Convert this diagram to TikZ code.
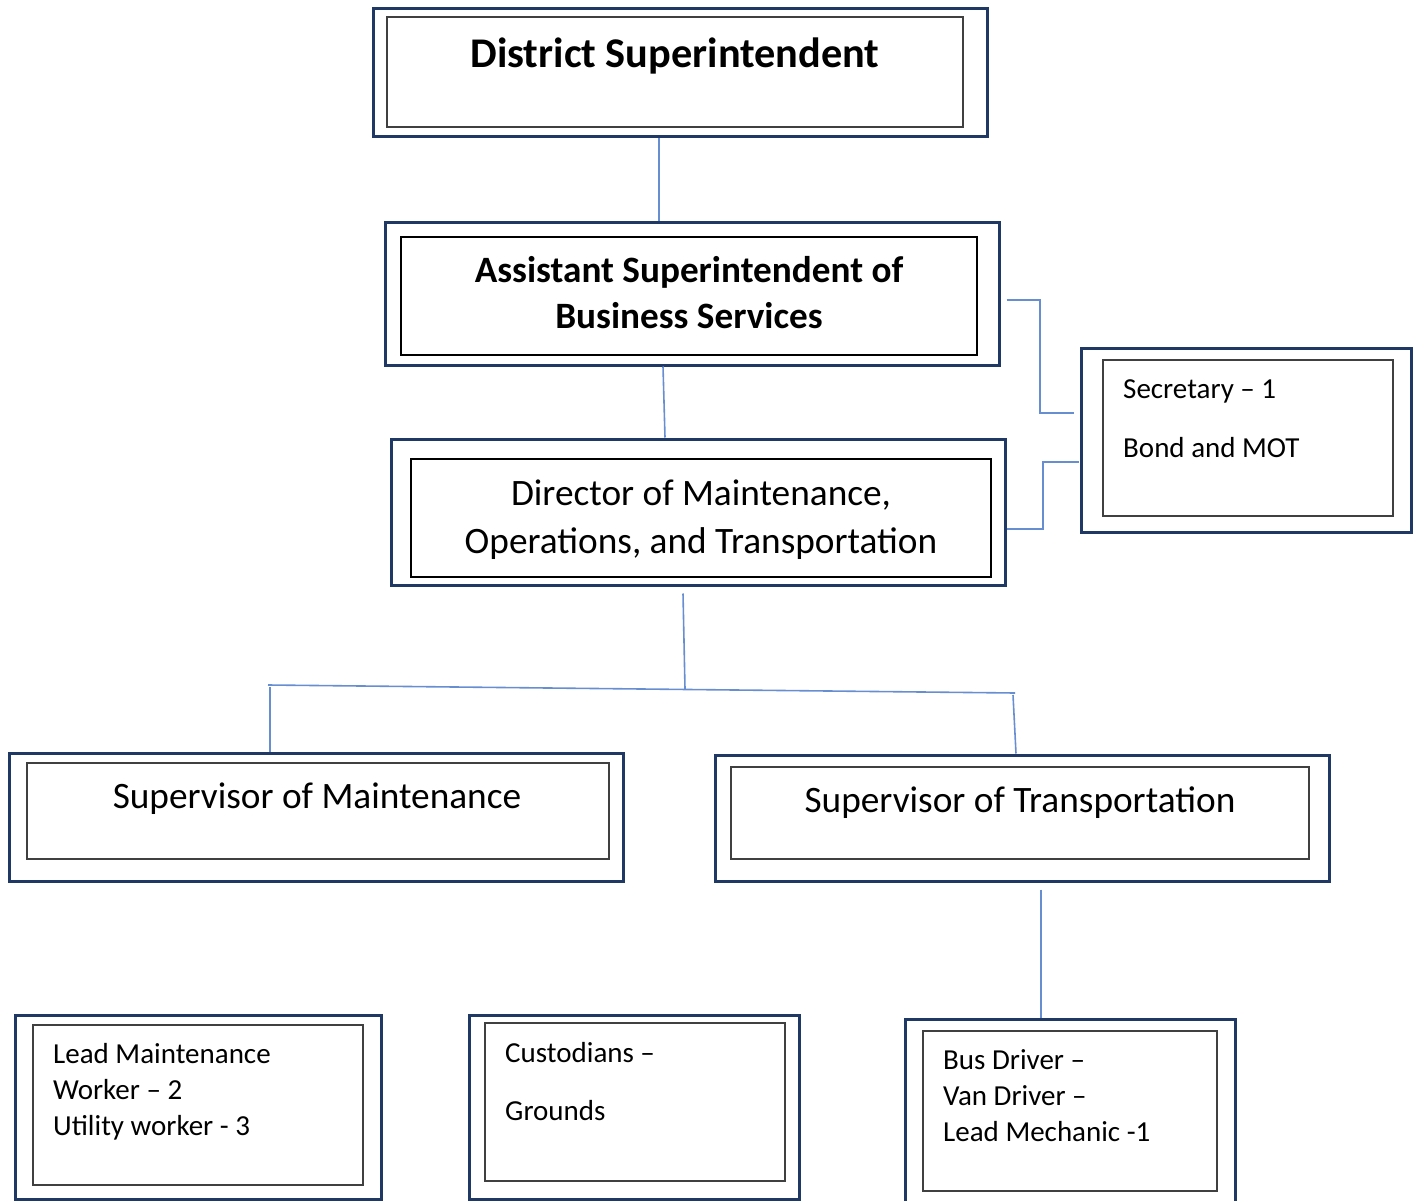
\documentclass[tikz,border=0pt]{standalone}
\usepackage{fontspec}
\setmainfont{Carlito}
\definecolor{navy}{RGB}{31,56,100}
\definecolor{innergray}{RGB}{64,64,64}
\definecolor{linkblue}{RGB}{104,142,210}
\begin{document}
\begin{tikzpicture}[x=1pt,y=-1pt,
  outerbox/.style={draw=navy,line width=3pt,rectangle,inner sep=0pt},
  innerbox/.style={draw=innergray,line width=2pt,rectangle,inner sep=0pt},
  innerstrong/.style={draw=black,line width=2.8pt,rectangle,inner sep=0pt},
  link/.style={draw=linkblue,line width=1.6pt},
  bigbold/.style={font=\fontsize{42.3}{50}\selectfont\bfseries,inner sep=0pt},
  midbold/.style={font=\fontsize{37.2}{46}\selectfont\bfseries,inner sep=0pt,align=center},
  midtext/.style={font=\fontsize{37.3}{48}\selectfont,inner sep=0pt,align=center},
  smalltext/.style={font=\fontsize{29}{36}\selectfont,inner sep=0pt,align=left}]
\clip (0,0) rectangle (1424,1201);
\useasboundingbox (0,0) rectangle (1424,1201);

% District Superintendent
\node[outerbox,minimum width=614pt,minimum height=128pt] (ds) at (680,73) {};
\node[innerbox,minimum width=576pt,minimum height=110pt] (dsi) at (675,72) {};
\node[bigbold,anchor=base] (dst) at (675,68) {District Superintendent};

% Assistant Superintendent
\node[outerbox,minimum width=614pt,minimum height=142pt] (as) at (692,294) {};
\node[innerstrong,minimum width=576pt,minimum height=118pt] (asi) at (689,296) {};
\node[midbold,anchor=base] (ast) at (689,328) {Assistant Superintendent of\\Business Services};

% Director
\node[outerbox,minimum width=614pt,minimum height=146pt] (dr) at (698,512) {};
\node[innerstrong,minimum width=580pt,minimum height=118pt] (dri) at (701,518) {};
\node[midtext,anchor=base] (drt) at (701,553) {Director of Maintenance,\\Operations, and Transportation};

% Secretary
\node[outerbox,minimum width=330pt,minimum height=184pt] (sec) at (1246,440) {};
\node[innerbox,minimum width=290pt,minimum height=156pt] (seci) at (1248,438) {};
\node[smalltext,anchor=base west] (sect) at (1123,457.5) {Secretary – 1\\[23.5pt]Bond and MOT};

% Supervisor of Maintenance
\node[outerbox,minimum width=614pt,minimum height=128pt] (sm) at (316,817) {};
\node[innerbox,minimum width=582pt,minimum height=96pt] (smi) at (318,811) {};
\node[midtext,anchor=base] (smt) at (317,808) {Supervisor of Maintenance};

% Supervisor of Transportation
\node[outerbox,minimum width=614pt,minimum height=126pt] (st) at (1022,818) {};
\node[innerbox,minimum width=578pt,minimum height=92pt] (sti) at (1020,813) {};
\node[midtext,anchor=base] (stt) at (1020,812) {Supervisor of Transportation};

% Lead Maintenance
\node[outerbox,minimum width=366pt,minimum height=184pt] (lm) at (198,1107) {};
\node[innerbox,minimum width=330pt,minimum height=160pt] (lmi) at (198,1105) {};
\node[smalltext,anchor=base west] (lmt) at (53,1135) {Lead Maintenance\\Worker – 2\\Utility worker - 3};

% Custodians
\node[outerbox,minimum width=330pt,minimum height=184pt] (cu) at (634,1107) {};
\node[innerbox,minimum width=300pt,minimum height=158pt] (cui) at (635,1102) {};
\node[smalltext,anchor=base west] (cut) at (505,1120) {Custodians –\\[22pt]Grounds};

% Bus Driver
\node[outerbox,minimum width=330pt,minimum height=196pt] (bd) at (1070,1117) {};
\node[innerbox,minimum width=294pt,minimum height=160pt] (bdi) at (1070,1111) {};
\node[smalltext,anchor=base west] (bdt) at (943,1141) {Bus Driver –\\Van Driver –\\Lead Mechanic -1};

% connectors
\draw[link] ([shift={(-21,0)}]ds.south) -- ([shift={(-33,0)}]as.north);
\draw[link] ([shift={(-29,0)}]as.south) -- ([shift={(-33,0)}]dr.north);
\draw[link] ([shift={(6,6)}]as.east) -| (1040,413) -- ([shift={(-6,-27)}]sec.west);
\draw[link] ([shift={(0,17)}]dr.east) -| (1043,462) -- ([shift={(-1,22)}]sec.west);

\coordinate (busl) at (268,685);
\coordinate (busm) at (685,689);
\coordinate (busr) at (1015,693);
\coordinate (dropl) at (270,687);
\coordinate (dropr) at (1013,695);
\draw[link] ([shift={(-15,7)}]dr.south) -- (busm);
\draw[link] (busl) -- (busr);
\draw[link] (dropl) -- ([shift={(-46,0)}]sm.north);
\draw[link] (dropr) -- ([shift={(-6,0)}]st.north);
\draw[link] ([shift={(19,7)}]st.south) -- ([shift={(-29,0)}]bd.north);
\end{tikzpicture}
\end{document}
